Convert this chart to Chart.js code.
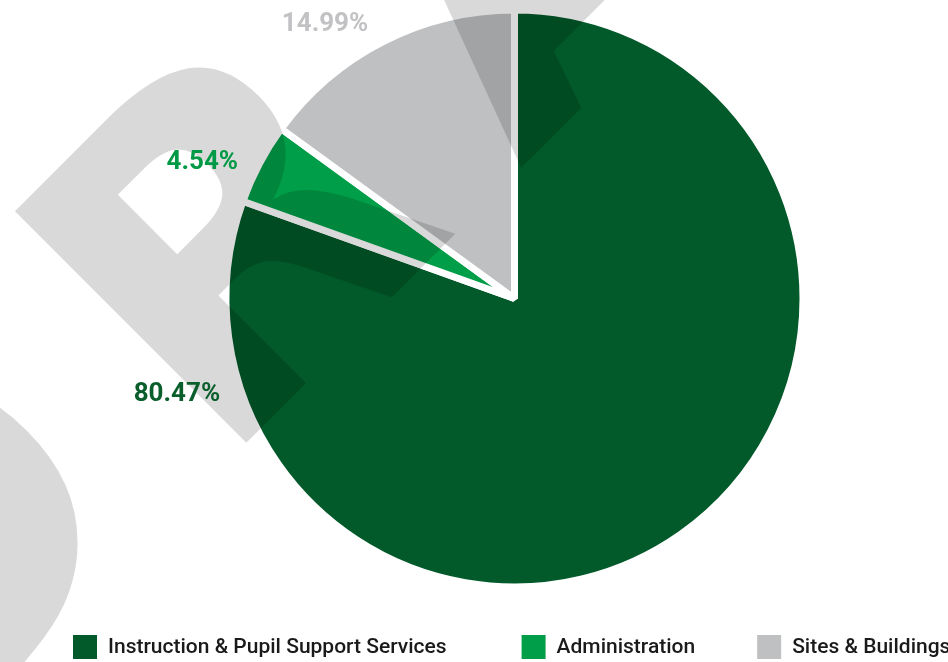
<!DOCTYPE html>
<html>
<head>
<meta charset="utf-8">
<title>Budget share</title>
<script src="https://cdn.jsdelivr.net/npm/chart.js@4.4.1/dist/chart.umd.min.js"></script>
<style>
  html, body { margin: 0; padding: 0; background: #fff; overflow: hidden; }
  #wrap { width: 948px; height: 662px; }
</style>
</head>
<body>
<div id="wrap"><canvas id="budgetPie"></canvas></div>
<script>
// spending split, in percent
const categories = ['Instruction & Pupil Support Services', 'Administration', 'Sites & Buildings'];
const shares = [80.47, 4.54, 14.99];
const pctLabels = shares.map(v => v.toFixed(2) + '%');

const sliceColors = ['#02592a', '#009e48', '#bfc0c2'];
const labelColors = ['#0a5e2c', '#009a46', '#c2c2c4'];
// where each % label sits: [angle in degrees, distance past the rim]
const labelSpots = [[164.4, 62], [203.9, 53], [235.5, 46]];

// big diagonal "DRAFT" stamp laid over the pie
const draftStamp = {
  id: 'draftStamp',
  afterDatasetsDraw(chart) {
    const ctx = chart.ctx;
    const word = 'DRAFT';
    const gap = 82;
    ctx.save();
    ctx.font = 'bold 449px "DejaVu Sans"';
    ctx.fillStyle = 'rgba(0, 0, 0, 0.15)';
    ctx.textBaseline = 'alphabetic';
    ctx.translate(242, 447);
    ctx.rotate(-Math.PI / 4);
    // R stem's lower-left corner sits on the anchor
    let x = ctx.measureText('R').actualBoundingBoxLeft;
    x -= gap + ctx.measureText('D').width;
    for (const ch of word) {
      ctx.fillText(ch, x, 0);
      x += ctx.measureText(ch).width + gap;
    }
    ctx.restore();
  }
};

// percentage labels outside the rim
const sliceLabels = {
  id: 'sliceLabels',
  afterDatasetsDraw(chart) {
    const ctx = chart.ctx;
    const arcs = chart.getDatasetMeta(0).data;
    ctx.save();
    ctx.font = 'bold 26px Roboto';
    ctx.textAlign = 'center';
    ctx.textBaseline = 'middle';
    arcs.forEach((arc, i) => {
      const {x, y, outerRadius} = arc.getProps(['x', 'y', 'outerRadius'], true);
      const a = labelSpots[i][0] * Math.PI / 180;
      const r = outerRadius + labelSpots[i][1];
      ctx.fillStyle = labelColors[i];
      ctx.fillText(pctLabels[i], x + Math.cos(a) * r, y + Math.sin(a) * r + 2);
    });
    ctx.restore();
  }
};

// single-row legend under the pie
const bottomLegend = {
  id: 'bottomLegend',
  afterDraw(chart) {
    const ctx = chart.ctx;
    const box = 24, textGap = 11, itemGaps = [75, 62];
    const left = 73, top = 635;
    ctx.save();
    ctx.font = '500 21px Roboto';
    ctx.textBaseline = 'middle';
    let x = left;
    categories.forEach((c, i) => {
      ctx.fillStyle = sliceColors[i];
      ctx.fillRect(x, top, box, box);
      ctx.fillStyle = '#1a1a1a';
      ctx.fillText(c, x + box + textGap, top + box / 2 + 1);
      x += box + textGap + ctx.measureText(c).width + (itemGaps[i] || 0);
    });
    ctx.restore();
  }
};

new Chart(document.getElementById('budgetPie'), {
  type: 'pie',
  data: {
    labels: categories,
    datasets: [{
      data: shares,
      backgroundColor: sliceColors,
      borderColor: '#ffffff',
      borderWidth: 7,
      clip: false
    }]
  },
  options: {
    responsive: true,
    maintainAspectRatio: false,
    animation: false,
    events: [],
    radius: 288.5,
    layout: { padding: { top: 0, left: 81, right: 0, bottom: 65 } },
    plugins: {
      legend: { display: false },
      tooltip: { enabled: false }
    }
  },
  plugins: [draftStamp, sliceLabels, bottomLegend]
});
</script>
</body>
</html>
